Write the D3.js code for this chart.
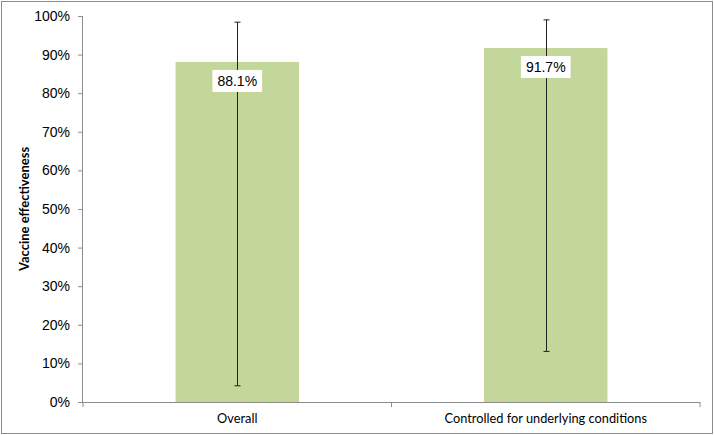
<!DOCTYPE html>
<html><head><meta charset="utf-8">
<script src="https://cdn.jsdelivr.net/npm/d3@7"></script>
<style>body{margin:0;background:#fff}svg{display:block}</style>
</head><body>
<svg id="c" width="714" height="435"></svg>
<script>
const categories = ["Overall", "Controlled for underlying conditions"];
const values = [0.881, 0.917];
const lower = [0.042, 0.131];
const upper = [0.984, 0.990];
const valueLabels = ["88.1%", "91.7%"];
const yTicks = [0,0.1,0.2,0.3,0.4,0.5,0.6,0.7,0.8,0.9,1.0];

(function(){
const svg = d3.select("#c");
svg.append("rect").attr("x",1.5).attr("y",1.5).attr("width",711).attr("height",432)
  .attr("fill","#fff").attr("stroke","#8c8c8c").attr("stroke-width",1);

const mLeft = 83, mRight = 700, mTop = 16, mBottom = 402;
const x = d3.scaleBand().domain(categories).range([mLeft, mRight]).paddingInner(0).paddingOuter(0);
const y = d3.scaleLinear().domain([0,1]).range([mBottom, mTop]);
const bw = x.bandwidth()*0.4;

// bars
svg.selectAll("rect.bar").data(categories).join("rect").attr("class","bar")
  .attr("x", d => x(d) + x.bandwidth()/2 - bw/2)
  .attr("y", (d,i) => y(values[i]))
  .attr("width", bw)
  .attr("height", (d,i) => y(0) - y(values[i]))
  .attr("fill", "#c4d79b");

// y axis
const ya = svg.append("g").attr("transform",`translate(${mLeft},0)`)
  .call(d3.axisLeft(y).tickValues(yTicks).tickFormat(d3.format(".0%")).tickSize(5).tickPadding(8));
ya.select(".domain").attr("stroke","#8c8c8c").attr("d",`M-0.5,${mTop}V${mBottom}`);
ya.selectAll(".tick line").attr("stroke","#8c8c8c");
ya.selectAll(".tick text").attr("font-family","Liberation Sans, Arial, sans-serif").attr("font-size",14).attr("fill","#000");

// x axis
const xa = svg.append("g").attr("transform",`translate(0,${mBottom})`)
  .call(d3.axisBottom(x).tickSize(0).tickPadding(12));
xa.select(".domain").attr("stroke","#8c8c8c").attr("d",`M${mLeft},0.5H${mRight}`);
xa.selectAll(".tick text").attr("font-family","Lato, Open Sans, sans-serif").attr("font-size",12.8).attr("fill","#000");
const bounds = [mLeft, mLeft + x.bandwidth(), mRight];
svg.append("g").selectAll("line").data(bounds).join("line")
  .attr("x1", d=>d).attr("x2", d=>d).attr("y1", mBottom).attr("y2", mBottom+5)
  .attr("stroke","#8c8c8c");

// error bars
const eb = svg.append("g").attr("stroke","#222").attr("stroke-width",1);
categories.forEach((c,i) => {
  const cx = Math.round(x(c) + x.bandwidth()/2) + 0.5;
  eb.append("line").attr("x1",cx).attr("x2",cx).attr("y1",y(upper[i])).attr("y2",y(lower[i]));
  eb.append("line").attr("x1",cx-3).attr("x2",cx+3).attr("y1",y(upper[i])).attr("y2",y(upper[i]));
  eb.append("line").attr("x1",cx-3).attr("x2",cx+3).attr("y1",y(lower[i])).attr("y2",y(lower[i]));
});

// value labels
categories.forEach((c,i) => {
  const cx = x(c) + x.bandwidth()/2;
  const cy = y(values[i]) + 19;
  const g = svg.append("g");
  const t = g.append("text").attr("x",cx).attr("y",cy).attr("dy","0.36em")
    .attr("text-anchor","middle").attr("font-family","Liberation Sans, Arial, sans-serif")
    .attr("font-size",14).attr("fill","#000").text(valueLabels[i]);
  const bb = t.node().getBBox();
  g.insert("rect","text").attr("x",bb.x-5).attr("y",cy-11).attr("width",bb.width+10).attr("height",22).attr("fill","#fff");
});

// y title
svg.append("text").attr("transform",`translate(29,${(mTop+mBottom)/2}) rotate(-90)`)
  .attr("text-anchor","middle").attr("font-family","Lato, Open Sans, sans-serif")
  .attr("font-weight","bold").attr("font-size",13).attr("fill","#000").text("Vaccine effectiveness");
})();
</script>
</body></html>
